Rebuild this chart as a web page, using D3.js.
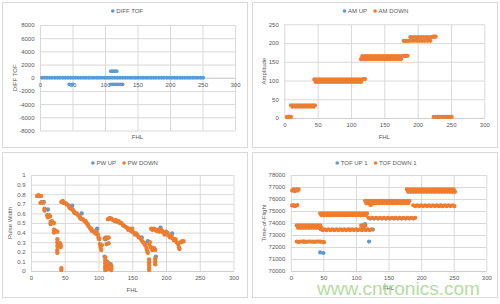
<!DOCTYPE html>
<meta charset="utf-8">
<style>
body { margin: 0; background: #fff; }
svg { display: block; font-family: "Liberation Sans", Arial, sans-serif; }
.tick text, .title, .legend text { fill: #595959; font-size: 6px; }
</style>
<body>
<script src="https://d3js.org/d3.v7.min.js"></script>
<script>

// ---- tick labels ----
var fhlTicks = [0, 50, 100, 150, 200, 250, 300];
var diffTicks = [-8000, -6000, -4000, -2000, 0, 2000, 4000, 6000, 8000];
var ampTicks = [0, 50, 100, 150, 200, 250];
var pwTicks = [0, 0.1, 0.2, 0.3, 0.4, 0.5, 0.6, 0.7, 0.8, 0.9, 1];
var tofTicks = [70000, 71000, 72000, 73000, 74000, 75000, 76000, 77000, 78000];

// ---- series, [FHL, value] ----
var diffTof = [[3,0],[7,0],[11,0],[15,0],[19,0],[23,0],[27,0],[31,0],[35,0],[39,0],[43,0],[47,0],[51,0],[55,0],[59,0],[63,0],
  [67,0],[71,0],[75,0],[79,0],[83,0],[87,0],[91,0],[95,0],[99,0],[103,0],[107,0],[111,0],[115,0],[119,0],[123,0],[127,0],
  [131,0],[135,0],[139,0],[143,0],[147,0],[151,0],[155,0],[159,0],[163,0],[167,0],[171,0],[175,0],[179,0],[183,0],[187,0],
  [191,0],[195,0],[199,0],[203,0],[207,0],[211,0],[215,0],[219,0],[223,0],[227,0],[231,0],[235,0],[239,0],[243,0],[247,0],[251,0],
  [45,-1000],[50,-1000],
  [109,1000],[112,1000],[115,1000],[118,1000],
  [109,-1000],[112,-1000],[115,-1000],[118,-1000],[121,-1000],[124,-1000],[127,-1000]];

var amUp = [[6,3],[20,32],[40,32],[60,100],[90,100],[110,100],[130,161],[160,161],[200,211],[215,211],[230,3],[245,3]];
var amDown = [[4,3],[6,3],[8,3],[10,3],
  [10,34],[12,30],[14,34],[16,30],[18,34],[20,30],[22,34],[24,30],[26,34],[28,30],[30,34],[32,30],[34,34],[36,30],[38,34],[40,30],[42,34],[44,30],[46,34],
  [45,103],[47,96],[49,103],[51,96],[53,103],[55,96],[57,103],[59,96],[61,103],[63,96],[65,103],[67,96],[69,103],[71,96],[73,103],[75,96],
  [77,103],[79,96],[81,103],[83,96],[85,103],[87,96],[89,103],[91,96],[93,103],[95,96],[97,103],[99,96],[101,103],[103,96],[105,103],[107,96],
  [109,103],[111,96],[113,103],[115,96],[117,103],[119,104],[121,104],
  [115,157],[117,165],[119,157],[121,165],[123,157],[125,165],[127,157],[129,165],[131,157],[133,165],[135,157],[137,165],[139,157],[141,165],
  [143,157],[145,165],[147,157],[149,165],[151,157],[153,165],[155,157],[157,165],[159,157],[161,165],[163,157],[165,165],[167,157],[169,165],
  [171,157],[173,165],[175,157],[177,165],[179,166],[181,166],[183,166],[185,166],
  [179,206],[181,206],[183,206],[185,206],[187,206],
  [189,216],[191,206],[193,216],[195,206],[197,216],[199,206],[201,216],[203,206],[205,216],[207,206],[209,216],[211,206],[213,216],[215,206],
  [217,216],[219,206],[221,216],[223,217],[225,217],[227,217],
  [224,3],[227,3],[230,3],[233,3],[236,3],[239,3],[242,3],[245,3],[248,3],[251,3]];

var pwUp = [[19,.72],[25,.64],[61,.68],[75,.60],[98,.44],[110,.33],[109,.15],[112,.10],[118,.07],[164,.35],[173,.31],[185,.15],[192,.45],[209,.39]];
var pwDown = [[9,.78],[11,.79],[13,.78],[15,.78],[14,.71],[16,.72],[18,.71],[20,.65],[20,.63],
  [24,.58],[25,.56],[27,.58],[28,.57],[29,.51],[29,.49],[31,.52],[34,.50],[34,.43],[34,.40],[36,.42],[39,.41],
  [39,.33],[39,.30],[39,.26],[39,.22],[39,.19],[43,.29],[44,.25],[44,.27],[45,.03],[45,.01],
  [45,.72],[47,.73],[48,.71],[50,.71],[52,.70],[54,.69],[56,.68],[57,.66],[59,.65],[61,.64],[63,.63],[64,.61],[66,.60],[68,.60],
  [70,.58],[72,.57],[73,.55],[75,.54],[77,.54],[79,.52],[81,.52],[82,.50],[84,.49],[85,.47],[87,.45],[89,.44],[90,.42],[92,.42],
  [94,.40],[96,.39],[97,.41],[99,.38],[100,.35],[101,.33],[102,.28],[103,.25],[104,.22],[105,.27],
  [109,.34],[111,.35],[113,.34],[115,.35],[112,.28],[115,.29],
  [110,.14],[110,.11],[110,.08],[110,.05],[110,.03],[110,.01],[114,.09],[114,.06],[114,.04],[114,.02],[119,.05],[119,.03],[119,.01],
  [114,.54],[116,.55],[118,.55],[120,.54],[122,.53],[124,.52],[126,.53],[128,.51],[130,.52],[132,.50],[134,.50],[136,.48],[138,.47],
  [140,.46],[142,.45],[144,.43],[146,.44],[148,.42],[150,.44],[150,.41],[152,.40],[154,.38],[156,.39],[158,.37],[160,.35],[162,.34],
  [164,.32],[166,.30],[168,.29],[169,.27],[171,.24],[172,.21],[173,.19],[175,.28],[176,.30],[177,.25],[179,.23],[180,.22],[182,.24],[184,.22],
  [175,.12],[175,.09],[175,.06],[175,.03],[175,.01],[184,.13],[184,.10],[184,.07],
  [178,.44],[180,.43],[182,.44],[184,.43],[186,.42],[188,.43],[190,.41],[192,.43],[194,.42],[196,.40],[198,.38],[200,.41],[202,.40],
  [204,.37],[206,.35],[208,.37],[210,.34],[212,.32],[214,.33],[216,.30],[218,.28],[219,.25],[220,.23],[222,.30],[224,.31],[226,.31]];

var tofUp = [[9,76800],[45,71550],[50,71500],[114,73900],[120,72450],[126,73450],[30,73700],[80,74700],[150,75750],[160,74400],
  [220,76700],[230,75450],[20,72450],[90,73450]];
var tofDown = [[2,76700],[4,76800],[6,76650],[8,76750],[10,76700],[12,76800],
  [2,75450],[4,75500],[6,75400],[8,75450],[10,75500],
  [9,73800],[11,73600],[13,73800],[15,73600],[17,73800],[19,73600],[21,73800],[23,73600],[25,73800],[27,73600],
  [29,73800],[31,73600],[33,73800],[35,73600],[37,73800],[39,73600],[41,73800],[43,73600],[45,73800],[47,73600],
  [9,72450],[12,72420],[15,72460],[18,72440],[21,72450],[24,72420],[27,72460],[30,72440],[33,72450],[36,72420],
  [39,72460],[42,72440],[45,72450],[48,72420],[51,72400],
  [45,74800],[47,74650],[49,74800],[51,74650],[53,74800],[55,74650],[57,74800],[59,74650],[61,74800],[63,74650],
  [65,74800],[67,74650],[69,74800],[71,74650],[73,74800],[75,74650],[77,74800],[79,74650],[81,74800],[83,74650],
  [85,74800],[87,74650],[89,74800],[91,74650],[93,74800],[95,74650],[97,74800],[99,74650],[101,74800],[103,74650],
  [105,74800],[107,74650],[109,74800],[111,74650],[113,74800],[115,74650],[117,74800],
  [46,73480],[49,73400],[52,73480],[55,73400],[58,73480],[61,73400],[64,73480],[67,73400],[70,73480],[73,73400],
  [76,73480],[79,73400],[82,73480],[85,73400],[88,73480],[91,73400],[94,73480],[97,73400],[100,73480],[103,73400],
  [106,73480],[109,73400],[112,73480],[115,73400],[118,73480],[121,73400],[124,73480],
  [108,73800],[110,73700],[112,73850],[114,73750],
  [114,75850],[116,75650],[118,75850],[120,75650],[122,75850],[124,75650],[126,75850],[128,75650],[130,75850],[132,75650],
  [134,75850],[136,75650],[138,75850],[140,75650],[142,75850],[144,75650],[146,75850],[148,75650],[150,75850],[152,75650],
  [154,75850],[156,75650],[158,75850],[160,75650],[162,75850],[164,75650],[166,75850],[168,75650],[170,75850],[172,75650],
  [174,75850],[176,75650],[178,75850],[180,75650],[182,75850],[122,75500],[124,75550],
  [119,74430],[122,74370],[125,74430],[128,74370],[131,74430],[134,74370],[137,74430],[140,74370],[143,74430],[146,74370],
  [149,74430],[152,74370],[155,74430],[158,74370],[161,74430],[164,74370],[167,74430],[170,74370],[173,74430],[176,74370],
  [179,74430],[182,74370],[185,74430],[188,74370],[191,74430],
  [178,76800],[180,76600],[182,76800],[184,76600],[186,76800],[188,76600],[190,76800],[192,76600],[194,76800],[196,76600],
  [198,76800],[200,76600],[202,76800],[204,76600],[206,76800],[208,76600],[210,76800],[212,76600],[214,76800],[216,76600],
  [218,76800],[220,76600],[222,76800],[224,76600],[226,76800],[228,76600],[230,76800],[232,76600],[234,76800],[236,76600],
  [238,76800],[240,76600],[242,76800],[244,76600],[246,76800],[248,76600],[250,76800],[252,76600],
  [188,75480],[191,75400],[194,75480],[197,75400],[200,75480],[203,75400],[206,75480],[209,75400],[212,75480],[215,75400],
  [218,75480],[221,75400],[224,75480],[227,75400],[230,75480],[233,75400],[236,75480],[239,75400],[242,75480],[245,75400],
  [248,75480],[251,75400]];

var blue = "#5b9bd5", orange = "#ed7d31";

var svg = d3.select("body").append("svg")
  .attr("width", 500)
  .attr("height", 304);

svg.append("rect").attr("width", 500).attr("height", 304).attr("fill", "#fff");

function drawPanel(p) {
  var g = svg.append("g");

  g.append("rect")
    .attr("x", p.box[0]).attr("y", p.box[1])
    .attr("width", p.box[2]).attr("height", p.box[3])
    .attr("fill", "#fff").attr("stroke", "#d9d9d9");

  var x = d3.scaleLinear().domain([0, 300]).range([p.left, p.right]);
  var y = d3.scaleLinear().domain(p.yDomain).range([p.bottom, p.top]);

  // horizontal gridlines + value labels
  var yAxis = g.append("g")
    .attr("transform", "translate(" + p.left + ",0)")
    .call(d3.axisLeft(y).tickValues(p.yTicks).tickSize(-(p.right - p.left)).tickPadding(5.5).tickFormat(function(d) { return String(d); }))
    .attr("font-size", null).attr("font-family", null);
  yAxis.select(".domain").remove();
  yAxis.selectAll("line").attr("stroke", "#d9d9d9");

  // vertical gridlines
  var xGrid = g.append("g")
    .attr("transform", "translate(0," + p.bottom + ")")
    .call(d3.axisBottom(x).tickValues(fhlTicks).tickSize(-(p.bottom - p.top)).tickFormat(""));
  xGrid.select(".domain").remove();
  xGrid.selectAll("line").attr("stroke", "#d9d9d9");

  // horizontal axis (crosses at p.cross)
  var xAxis = g.append("g")
    .attr("transform", "translate(0," + y(p.cross) + ")")
    .call(d3.axisBottom(x).tickValues(fhlTicks).tickSize(0).tickSizeOuter(0).tickPadding(5))
    .attr("font-size", null).attr("font-family", null);
  xAxis.select(".domain").attr("stroke", "#cfcfcf");

  // points
  p.series.forEach(function(s) {
    g.append("g").selectAll("circle")
      .data(s.values)
      .join("circle")
      .attr("cx", function(d) { return x(d[0]); })
      .attr("cy", function(d) { return y(d[1]); })
      .attr("r", p.r)
      .attr("fill", s.color);
  });

  // titles
  g.append("text").attr("class", "title")
    .attr("x", (p.left + p.right) / 2).attr("y", p.xTitleY)
    .attr("text-anchor", "middle").text("FHL");
  g.append("text").attr("class", "title")
    .attr("transform", "translate(" + p.yTitleX + "," + (p.top + p.bottom) / 2 + ") rotate(-90)")
    .attr("text-anchor", "middle").attr("dy", "0.35em").text(p.yTitle);

  // legend
  var lg = g.append("g").attr("class", "legend");
  var cx = 0;
  p.series.forEach(function(s) {
    lg.append("circle").attr("cx", cx).attr("cy", 0).attr("r", 1.8).attr("fill", s.color);
    var t = lg.append("text").attr("x", cx + 3.5).attr("y", 2.1).text(s.name);
    cx += 3.5 + t.node().getComputedTextLength() + 8;
  });
  var lw = cx - 8 + 1.8;
  lg.attr("transform", "translate(" + (p.legendX - lw / 2 + 1.8) + "," + p.legendY + ")");
}

drawPanel({
  box: [2.5, 2.5, 245, 145], left: 40, right: 235, top: 25, bottom: 130.5, r: 1.9,
  yDomain: [-8000, 8000], yTicks: diffTicks, cross: 0,
  yTitle: "DIFF TOF", yTitleX: 15, xTitleY: 139, legendX: 127, legendY: 11,
  series: [{ name: "DIFF TOF", color: blue, values: diffTof }]
});

drawPanel({
  box: [252.5, 2.5, 245, 145], left: 284.3, right: 484.3, top: 24.3, bottom: 118, r: 2.1,
  yDomain: [0, 250], yTicks: ampTicks, cross: 0,
  yTitle: "Amplitude", yTitleX: 264, xTitleY: 139, legendX: 375.5, legendY: 11,
  series: [{ name: "AM UP", color: blue, values: amUp }, { name: "AM DOWN", color: orange, values: amDown }]
});

drawPanel({
  box: [2.5, 152.5, 245, 145], left: 31, right: 233.5, top: 175, bottom: 271, r: 2.2,
  yDomain: [0, 1], yTicks: pwTicks, cross: 0,
  yTitle: "Pulse Width", yTitleX: 10, xTitleY: 292, legendX: 124.5, legendY: 163,
  series: [{ name: "PW UP", color: blue, values: pwUp }, { name: "PW DOWN", color: orange, values: pwDown }]
});

drawPanel({
  box: [252.5, 152.5, 245, 145], left: 290.8, right: 486.3, top: 175, bottom: 271, r: 2.1,
  yDomain: [70000, 78000], yTicks: tofTicks, cross: 70000,
  yTitle: "Time-of-Flight", yTitleX: 264, xTitleY: 290, legendX: 376, legendY: 163,
  series: [{ name: "TOF UP 1", color: blue, values: tofUp }, { name: "TOF DOWN 1", color: orange, values: tofDown }]
});

// watermark
svg.append("text")
  .attr("x", 317).attr("y", 295)
  .attr("textLength", 163)
  .attr("lengthAdjust", "spacingAndGlyphs")
  .style("font-size", "18px")
  .style("font-family", "'Liberation Sans', Arial, sans-serif")
  .attr("fill", "#a3d58a")
  .attr("opacity", 0.8)
  .text("www.cntronics.com");

</script>
</body>
